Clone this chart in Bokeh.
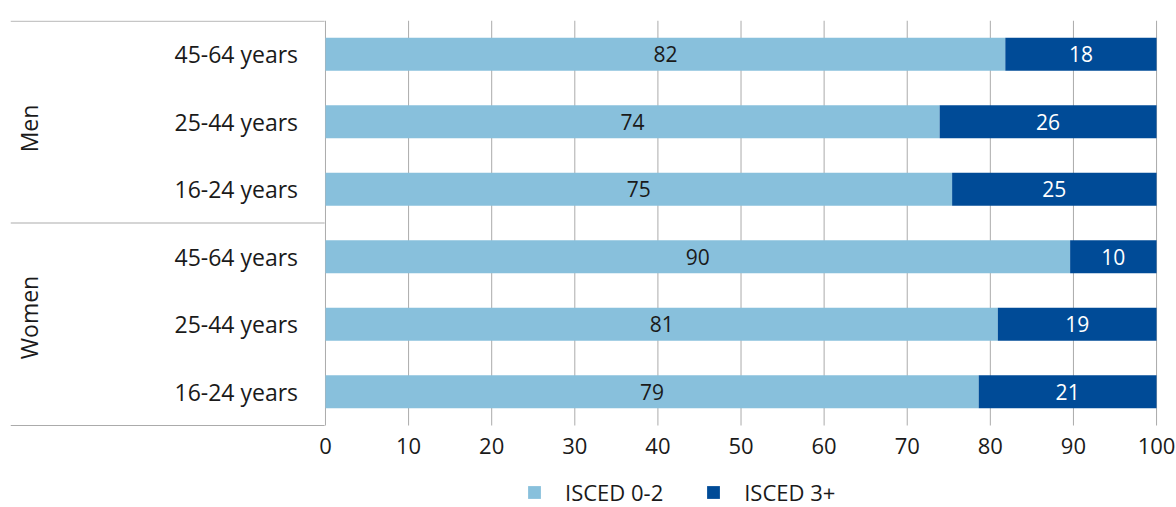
import numpy as np
from bokeh.plotting import figure
from bokeh.models import ColumnDataSource, Range1d, FixedTicker, Legend, LegendItem
from bokeh.core.properties import value
from bokeh.embed import file_html
from bokeh.resources import INLINE

# ---- data ----
groups = ["Men", "Women"]
ages = ["45-64 years", "25-44 years", "16-24 years",
        "45-64 years", "25-44 years", "16-24 years"]
isced_0_2 = [81.8, 73.9, 75.4, 89.6, 80.9, 78.6]
isced_3_plus = [18.2, 26.1, 24.6, 10.4, 19.1, 21.4]
series_names = ["ISCED 0-2", "ISCED 3+"]
x_ticks = [0, 10, 20, 30, 40, 50, 60, 70, 80, 90, 100]

# ---- style ----
FONT = "Open Sans"
LIGHT = "#88C0DC"
DARK = "#004B97"
GRID = "#ababab"
TXT = "#1a1a1a"
X_LEFT = -37.9
X_RIGHT = 102.4
N = len(ages)
ROW_PX = 67.5
FRAME_H = 487
Y_BOTTOM = -0.5 + FRAME_H / ROW_PX

rows = list(range(N))
a = np.array(isced_0_2)
b = np.array(isced_3_plus)

src = ColumnDataSource(dict(
    y=rows,
    l1=[0] * N, r1=list(a),
    l2=list(a), r2=list(a + b),
    c1=list(a / 2), c2=list(a + b / 2),
    t1=[str(int(round(v))) for v in a],
    t2=[str(int(round(v))) for v in b],
))

p = figure(width=1176, height=507, output_backend="svg", toolbar_location=None,
           x_range=Range1d(X_LEFT, X_RIGHT), y_range=Range1d(Y_BOTTOM, -0.5),
           y_axis_location=None, min_border_left=10, min_border_right=0,
           min_border_top=20, min_border_bottom=0)
p.outline_line_color = None
p.background_fill_color = "white"
p.xgrid.grid_line_color = None
p.ygrid.grid_line_color = None

# vertical grid lines, limited to the bar area
p.segment(x0=x_ticks, x1=x_ticks, y0=[-0.5] * len(x_ticks), y1=[N - 0.5] * len(x_ticks),
          line_color=GRID, line_width=1)

ax = p.xaxis[0]
ax.fixed_location = N - 0.5
ax.ticker = FixedTicker(ticks=x_ticks)
ax.axis_line_color = None
ax.major_tick_line_color = None
ax.minor_tick_line_color = None
ax.major_tick_out = 0
ax.major_tick_in = 0
ax.major_label_standoff = 12
ax.major_label_text_font = FONT
ax.major_label_text_font_size = "22px"
ax.major_label_text_color = TXT

r1 = p.hbar(y="y", left="l1", right="r1", height=0.49, source=src,
            fill_color=LIGHT, line_color=None)
r2 = p.hbar(y="y", left="l2", right="r2", height=0.49, source=src,
            fill_color=DARK, line_color=None)

p.text(x="c1", y="y", text="t1", source=src, text_align="center",
       text_baseline="middle", text_font=value(FONT), text_font_size="21px",
       text_color=TXT)
p.text(x="c2", y="y", text="t2", source=src, text_align="center",
       text_baseline="middle", text_font=value(FONT), text_font_size="21px",
       text_color="white")

# category labels
p.text(x=[-3.3] * N, y=rows, text=ages, text_align="right",
       text_baseline="middle", text_font=value(FONT), text_font_size="23px",
       text_color=TXT)
# group labels
p.text(x=[-35.7, -35.7], y=[1.1, 3.9], text=groups, angle=np.pi / 2,
       text_align="center", text_baseline="middle", text_font=value(FONT),
       text_font_size="23px", text_color=TXT)
# separator lines of the category area
p.segment(x0=[X_LEFT] * 3, x1=[-0.1] * 3, y0=[-0.49, 2.5, N - 0.5], y1=[-0.49, 2.5, N - 0.5],
          line_color=GRID, line_width=1)

legend = Legend(items=[LegendItem(label=series_names[0], renderers=[r1]),
                       LegendItem(label=series_names[1], renderers=[r2])],
                orientation="horizontal", location=(516, 0),
                glyph_width=16, glyph_height=16, label_standoff=23, spacing=42,
                label_text_font=FONT, label_text_font_size="22px",
                label_text_color=TXT, padding=0, margin=0,
                border_line_color=None, background_fill_alpha=0)
p.add_layout(legend, "center")

open("out.html", "w").write(file_html(p, INLINE))
